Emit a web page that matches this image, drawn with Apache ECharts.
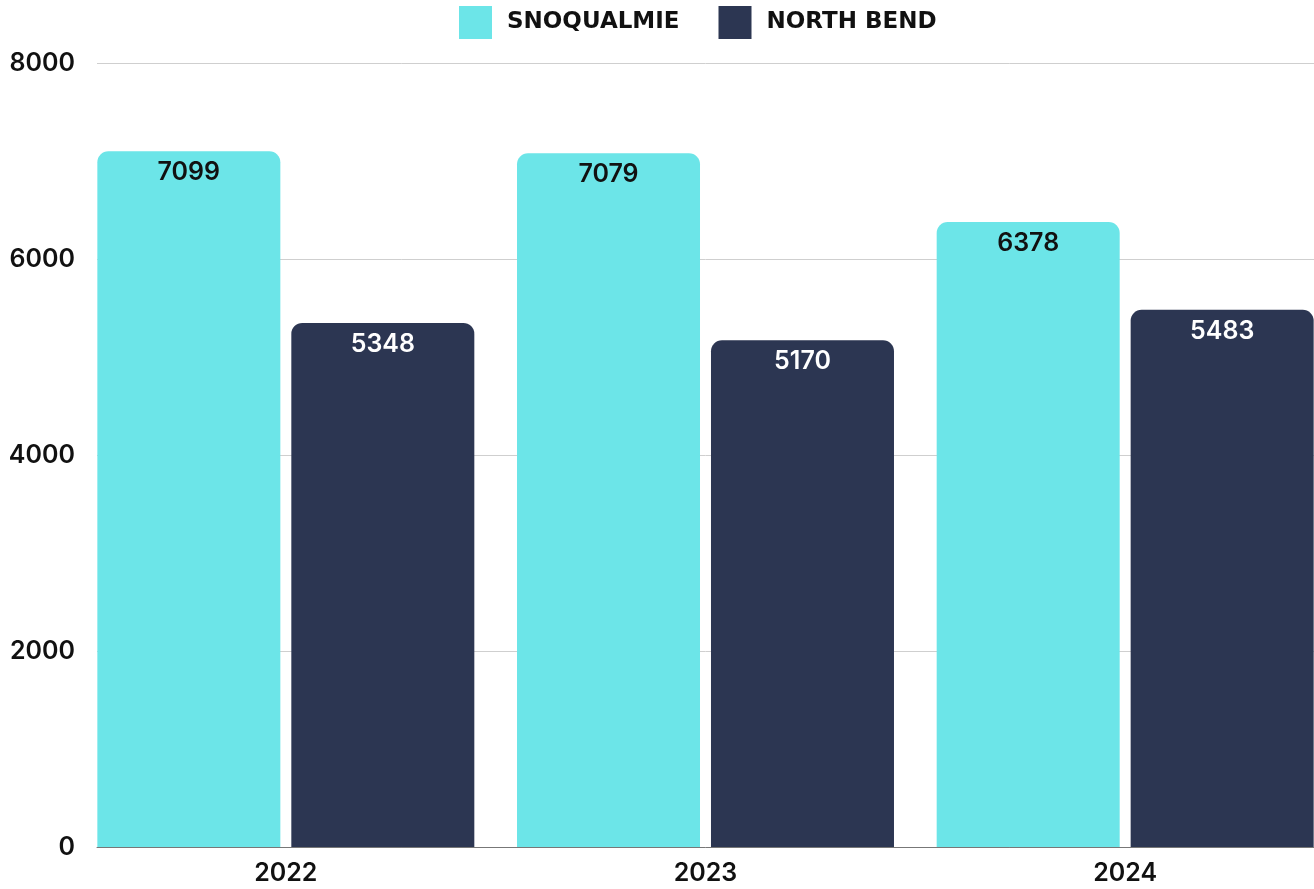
<!DOCTYPE html>
<html>
<head>
<meta charset="utf-8">
<script src="https://cdn.jsdelivr.net/npm/echarts@6/dist/echarts.min.js"></script>
<style>
  html, body { margin: 0; padding: 0; background: #fff; overflow: hidden; }
  /* the bar area runs slightly past the right edge of the picture */
  #chart { width: 1335px; height: 889px; }
</style>
</head>
<body>
<div id="chart"></div>
<script>
  var years = ['2022', '2023', '2024'];
  var snoqualmie = [7099, 7079, 6378];
  var northBend = [5348, 5170, 5483];
  var yTicks = { min: 0, max: 8000, interval: 2000 };

  var font = 'Inter, "Noto Sans", sans-serif';
  var myChart = echarts.init(document.getElementById('chart'));

  var option = {
    animation: false,
    textStyle: { fontFamily: font },
    legend: {
      top: 1,
      left: 454,
      icon: 'rect',
      itemWidth: 33,
      itemHeight: 33,
      itemGap: 39,
      textStyle: { fontSize: 23, fontWeight: 'bold', color: '#111', fontFamily: '"DejaVu Sans", sans-serif', padding: [0, 0, 0, 10] },
      data: ['SNOQUALMIE', 'NORTH BEND']
    },
    grid: [
      // grid for y axis + split lines
      { left: 97, right: 21, top: 63, bottom: 42 },
      // grid for the bars (wider category bands)
      { left: 76, right: 0, top: 63, bottom: 42 }
    ],
    xAxis: [
      {
        type: 'category', gridIndex: 0, data: years,
        axisLine: { show: true, lineStyle: { color: '#777', width: 1 } },
        axisTick: { show: false },
        axisLabel: { show: false }
      },
      {
        type: 'category', gridIndex: 1, data: years,
        axisLine: { show: false },
        axisTick: { show: false },
        axisLabel: { margin: 14, fontSize: 25, fontWeight: 600, color: '#111', fontFamily: font }
      }
    ],
    yAxis: [
      {
        type: 'value', gridIndex: 0,
        min: yTicks.min, max: yTicks.max, interval: yTicks.interval,
        axisLine: { show: false },
        axisTick: { show: false },
        axisLabel: {
          margin: 22, fontSize: 25, fontWeight: 600, color: '#111', fontFamily: font,
          formatter: function (v) { return String(v); }
        },
        splitLine: { lineStyle: { color: '#cfcfcf', width: 1 } }
      },
      {
        type: 'value', gridIndex: 1,
        min: yTicks.min, max: yTicks.max, interval: yTicks.interval,
        show: false,
        splitLine: { show: false }
      }
    ],
    series: [
      {
        name: 'SNOQUALMIE',
        type: 'bar',
        xAxisIndex: 1, yAxisIndex: 1,
        data: snoqualmie,
        barWidth: 183,
        barGap: '6%',
        itemStyle: { color: '#6ce5e8', borderRadius: [11, 11, 0, 0] },
        label: {
          show: true, position: 'insideTop', distance: 9,
          fontSize: 25, fontWeight: 600, color: '#111', fontFamily: font
        }
      },
      {
        name: 'NORTH BEND',
        type: 'bar',
        xAxisIndex: 1, yAxisIndex: 1,
        data: northBend,
        barWidth: 183,
        barGap: '6%',
        itemStyle: { color: '#2c3652', borderRadius: [11, 11, 0, 0] },
        label: {
          show: true, position: 'insideTop', distance: 9,
          fontSize: 25, fontWeight: 600, color: '#fff', fontFamily: font
        }
      }
    ]
  };
  myChart.setOption(option, true);
</script>
</body>
</html>
